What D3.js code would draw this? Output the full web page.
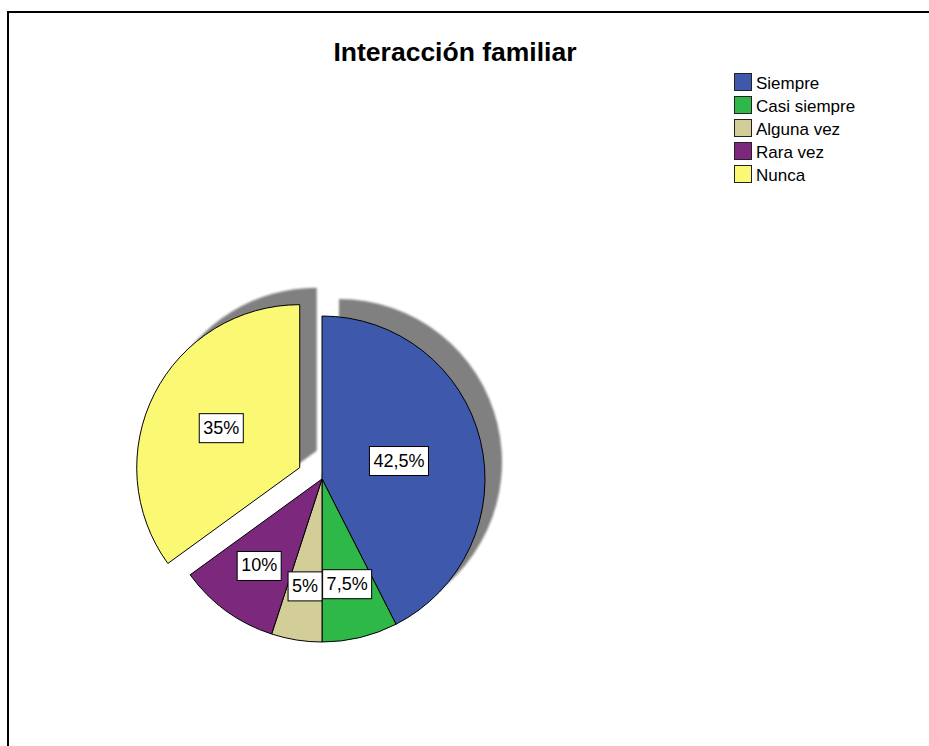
<!DOCTYPE html>
<html lang="es">
<head>
    <meta charset="UTF-8">
    <title>Interacción familiar</title>
    <script src="https://d3js.org/d3.v7.min.js"></script>
    <style>
        body { margin: 0; background: #fff; }
        svg text { font-family: Arial, "Liberation Sans", sans-serif; }
    </style>
</head>
<body>
<div id="chart"></div>
<script>
// datos
var categorias = ["Siempre", "Casi siempre", "Alguna vez", "Rara vez", "Nunca"];
var porcentajes = [42.5, 7.5, 5, 10, 35];
var etiquetas = ["42,5%", "7,5%", "5%", "10%", "35%"];
var colores = ["#3e58ac", "#2eb848", "#d3ce97", "#7c287d", "#fbf873"];
var separada = ["Nunca"];   // porción desplazada

var width = 929, height = 746;
var cx = 322, cy = 479, R = 163;
var explode = 25, sombra = 17;

var svg = d3.select("#chart").append("svg")
    .attr("width", width)
    .attr("height", height);

var defs = svg.append("defs");
defs.append("filter").attr("id", "difuso")
    .append("feGaussianBlur").attr("stdDeviation", 0.8);
// la sombra del pie sin separar solo asoma por la derecha
defs.append("clipPath").attr("id", "derecha")
    .append("rect")
    .attr("x", 0).attr("y", -R - 40)
    .attr("width", R + 60).attr("height", 2 * R + 80);

// marco
svg.append("rect")
    .attr("x", 8).attr("y", 12)
    .attr("width", width + 20).attr("height", height + 20)
    .attr("fill", "none")
    .attr("stroke", "#000")
    .attr("stroke-width", 2);

svg.append("text")
    .attr("x", 455).attr("y", 61)
    .attr("text-anchor", "middle")
    .attr("font-size", 26.5)
    .attr("font-weight", "bold")
    .text("Interacción familiar");

var color = d3.scaleOrdinal().domain(categorias).range(colores);

var pie = d3.pie().sort(null).value(function(d) { return d.v; });
var arcos = pie(categorias.map(function(c, i) {
    return { c: c, v: porcentajes[i], lab: etiquetas[i] };
}));
var arc = d3.arc().innerRadius(0).outerRadius(R);

function esSeparada(d) { return separada.indexOf(d.data.c) >= 0; }

function desplazamiento(d) {
    if (!esSeparada(d)) return [0, 0];
    var a = (d.startAngle + d.endAngle) / 2;
    return [Math.sin(a) * explode, -Math.cos(a) * explode];
}

var g = svg.append("g").attr("transform", "translate(" + cx + "," + cy + ")");

// sombras
var gs = g.append("g").attr("filter", "url(#difuso)");
gs.append("g").attr("clip-path", "url(#derecha)")
    .selectAll("path")
    .data(arcos.filter(function(d) { return !esSeparada(d); }))
    .enter().append("path")
    .attr("d", arc)
    .attr("fill", "#808080")
    .attr("transform", "translate(" + sombra + "," + (-sombra) + ")");

gs.append("g")
    .selectAll("path")
    .data(arcos.filter(esSeparada))
    .enter().append("path")
    .attr("d", arc)
    .attr("fill", "#808080")
    .attr("transform", function(d) {
        var o = desplazamiento(d);
        return "translate(" + (o[0] + sombra) + "," + (o[1] - sombra) + ")";
    });

// porciones
g.selectAll("path.porcion")
    .data(arcos)
    .enter().append("path")
    .attr("class", "porcion")
    .attr("d", arc)
    .attr("fill", function(d) { return color(d.data.c); })
    .attr("stroke", "#000")
    .attr("stroke-width", 1)
    .attr("transform", function(d) {
        var o = desplazamiento(d);
        return "translate(" + o[0] + "," + o[1] + ")";
    });

// etiquetas en el centroide del sector
var lab = g.selectAll("g.etiqueta")
    .data(arcos)
    .enter().append("g")
    .attr("class", "etiqueta")
    .attr("transform", function(d) {
        var o = desplazamiento(d);
        var a = (d.startAngle + d.endAngle) / 2;
        var h = (d.endAngle - d.startAngle) / 2;
        var r = 2 * R * Math.sin(h) / (3 * h);
        return "translate(" + (o[0] + Math.sin(a) * r) + "," + (o[1] - Math.cos(a) * r) + ")";
    });

lab.append("rect")
    .attr("fill", "#fff")
    .attr("stroke", "#000")
    .attr("stroke-width", 1);

var txt = lab.append("text")
    .attr("text-anchor", "middle")
    .attr("y", 6)
    .attr("font-size", 18)
    .text(function(d) { return d.data.lab; });

txt.each(function() {
    var w = this.getComputedTextLength() + 8;
    d3.select(this.parentNode).select("rect")
        .attr("x", -w / 2).attr("y", -14)
        .attr("width", w).attr("height", 29);
});

// leyenda
var leyenda = svg.append("g").attr("transform", "translate(734,73)");
var item = leyenda.selectAll("g")
    .data(categorias)
    .enter().append("g")
    .attr("transform", function(d, i) { return "translate(0," + (i * 23) + ")"; });

item.append("rect")
    .attr("x", 0.5).attr("y", 0.5)
    .attr("width", 17).attr("height", 17)
    .attr("fill", function(d) { return color(d); })
    .attr("stroke", "#222");

item.append("text")
    .attr("x", 22).attr("y", 16)
    .attr("font-size", 17)
    .text(function(d) { return d; });
</script>
</body>
</html>
